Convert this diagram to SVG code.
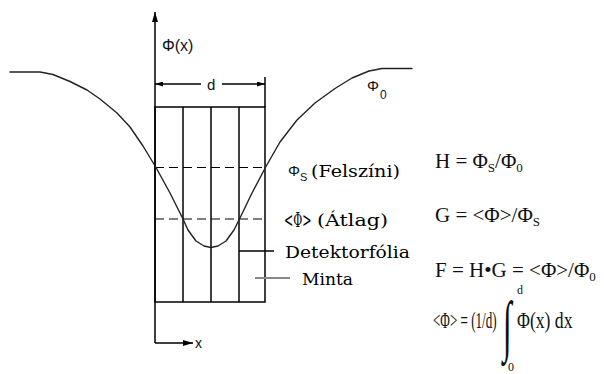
<svg xmlns="http://www.w3.org/2000/svg" width="604" height="374" viewBox="0 0 604 374">
<defs>
<style>
.ln{stroke:#000;stroke-width:1.5;fill:none}
.cv{stroke:#222;stroke-width:1.4;fill:none;stroke-linejoin:round;stroke-linecap:round}
.dash{stroke:#000;stroke-width:1.2;stroke-dasharray:9 5;fill:none}
.lead{stroke:#000;stroke-width:1.5;fill:none}
.sans{font-family:"Liberation Sans","DejaVu Sans",sans-serif;fill:#111}
.ser{font-family:"DejaVu Serif","Liberation Serif",serif;fill:#000;font-size:17px}
.eq{font-family:"Liberation Serif","Times New Roman",serif;fill:#111}
</style>
<marker id="ah" viewBox="0 0 10 6" refX="10" refY="3" markerWidth="10" markerHeight="6" markerUnits="userSpaceOnUse" orient="auto"><path d="M0,0 L10,3 L0,6 z" fill="#000"/></marker>
<marker id="ahs" viewBox="0 0 8 5" refX="8" refY="2.5" markerWidth="8" markerHeight="5" markerUnits="userSpaceOnUse" orient="auto"><path d="M0,0 L8,2.5 L0,5 z" fill="#000"/></marker>
</defs>
<rect width="604" height="374" fill="#fff"/>

<g id="axes">
<line class="ln" x1="155" y1="343" x2="155" y2="12" marker-end="url(#ah)"/>
<line class="ln" x1="155" y1="343" x2="193" y2="343" marker-end="url(#ah)"/>
<text class="sans" x="162" y="51" font-size="16">Φ(x)</text>
<text class="sans" x="195" y="348" font-size="14">x</text>
</g>

<g id="dimension">
<line class="ln" x1="201" y1="84" x2="155" y2="84" marker-end="url(#ahs)"/>
<line class="ln" x1="222" y1="84" x2="265" y2="84" marker-end="url(#ahs)"/>
<line class="ln" x1="265" y1="77" x2="265" y2="107"/>
<text class="sans" x="207" y="90" font-size="15">d</text>
</g>

<g id="specimen">
<rect class="ln" x="155" y="107" width="110" height="195"/>
<line class="ln" x1="183" y1="107" x2="183" y2="302"/>
<line class="ln" x1="211" y1="107" x2="211" y2="302"/>
<line class="ln" x1="239" y1="107" x2="239" y2="302"/>
</g>

<g id="levels">
<line class="dash" x1="155" y1="167.5" x2="265" y2="167.5"/>
<line class="dash" x1="155" y1="219" x2="265" y2="219"/>
</g>

<g id="flux-curve">
<polyline class="cv" points="10,72 40,72 53,74.5 70,81.5 87,90 100,99 117,113 130,127 143,146 156,167.5 170,193 183,219 188,230 196,241 204,246 211,247.5 218,246 226,241 234,230 239.5,219 252,193 265.7,167 280,142 297,120 315,103 335,88.5 352,78 369,71 382,68.5 412,68.5"/>
<text class="sans" x="367" y="91" font-size="15">Φ</text>
<text class="sans" x="380" y="99" font-size="12">0</text>
</g>

<g id="labels">
<text class="sans" x="288" y="176" font-size="15">Φ<tspan font-size="11" dy="5">S</tspan></text>
<text class="ser" x="311" y="177" textLength="89" lengthAdjust="spacingAndGlyphs">(Felszíni)</text>
<text class="ser" transform="translate(284,227) scale(0.55,1)" style="font-size:20px">&lt;Φ&gt;</text>
<text class="ser" x="317" y="226" textLength="71" lengthAdjust="spacingAndGlyphs">(Átlag)</text>
<line class="lead" x1="239" y1="251" x2="274" y2="251"/>
<text class="ser" x="285" y="258" textLength="125" lengthAdjust="spacingAndGlyphs">Detektorfólia</text>
<line x1="255" y1="278" x2="290" y2="278" stroke="#888" stroke-width="2"/>
<text class="ser" x="302" y="285" textLength="51" lengthAdjust="spacingAndGlyphs">Minta</text>
</g>

<g id="equations">
<text class="eq" x="435" y="168" style="font-size:21px">H = Φ<tspan style="font-size:13px" dy="4">S</tspan><tspan dy="-4">/Φ</tspan><tspan style="font-size:13px" dy="4">0</tspan></text>
<text class="eq" x="435" y="222" style="font-size:21px">G = &lt;Φ&gt;/Φ<tspan style="font-size:13px" dy="4">S</tspan></text>
<text class="eq" x="435" y="277" style="font-size:21px">F = H•G = &lt;Φ&gt;/Φ<tspan style="font-size:13px" dy="4">0</tspan></text>
<text class="eq" transform="translate(433,328) scale(0.545,1)" style="font-size:24px">&lt;Φ&gt; = (1/d)</text>
<text class="eq" transform="translate(503,348) scale(0.5,1.05)" style="font-size:64px">∫</text>
<text class="eq" x="517" y="294" style="font-size:12px">d</text>
<text class="eq" x="508" y="371" style="font-size:12px">0</text>
<text class="eq" transform="translate(517,328) scale(0.735,1)" style="font-size:24px">Φ(x) dx</text>
</g>
</svg>
